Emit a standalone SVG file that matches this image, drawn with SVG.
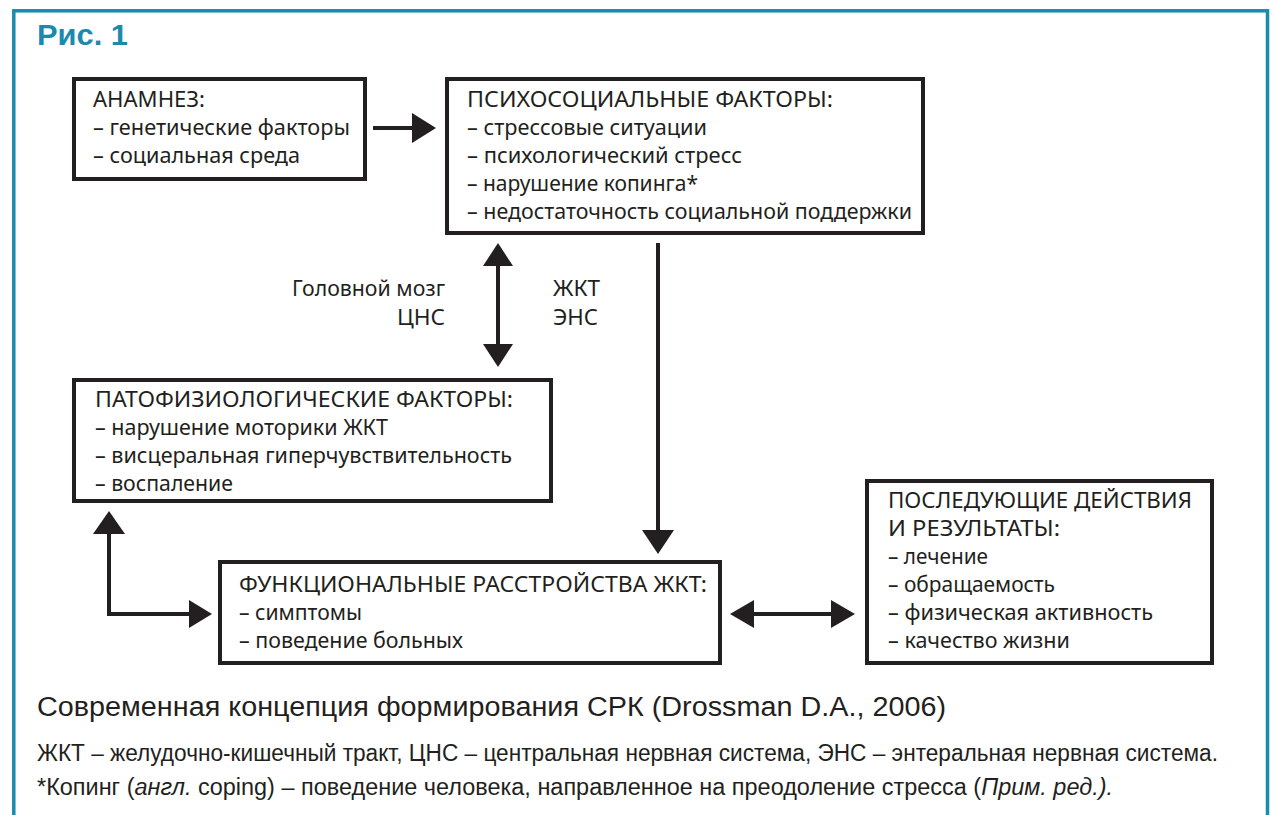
<svg xmlns="http://www.w3.org/2000/svg" width="1274" height="815" viewBox="0 0 1274 815">
<defs>
<style>
.frame{fill:none;stroke:#1a8aad;stroke-width:3.5}
.title{font-family:"Liberation Sans",Arial,sans-serif;font-weight:bold;font-size:30px;fill:#1a8aad}
.box{fill:#fff;stroke:#231f20;stroke-width:4}
.t{font-family:"Noto Sans","Open Sans",sans-serif;font-size:22px;fill:#231f20}
.ln{stroke:#231f20;stroke-width:4;fill:none}
.hd{fill:#231f20}
.cap{font-family:"Liberation Sans",Arial,sans-serif;font-size:27px;fill:#231f20}
.note{font-family:"Liberation Sans",Arial,sans-serif;font-size:23px;fill:#231f20}
</style>
</defs>
<rect x="0" y="0" width="1274" height="815" fill="#fff"/>
<rect class="frame" x="13.8" y="10.8" width="1253.7" height="830"/>
<text class="title" x="37" y="45" textLength="91" lengthAdjust="spacingAndGlyphs">Рис. 1</text>

<g id="connectors">
  <line class="ln" x1="373" y1="128" x2="414" y2="128"/>
  <polygon class="hd" points="412,113 436,128 412,143"/>
  <line class="ln" x1="498" y1="262" x2="498" y2="348"/>
  <polygon class="hd" points="483,266 498,243 513,266"/>
  <polygon class="hd" points="483,344 498,367 513,344"/>
  <line class="ln" x1="658" y1="243" x2="658" y2="533"/>
  <polygon class="hd" points="642,530 658,554 674,530"/>
  <polyline class="ln" points="109,530 109,614 193,614"/>
  <polygon class="hd" points="93,534 109,511 125,534"/>
  <polygon class="hd" points="189,600 212,614 189,628"/>
  <line class="ln" x1="750" y1="614" x2="835" y2="614"/>
  <polygon class="hd" points="754,600 730,614 754,628"/>
  <polygon class="hd" points="831,600 855,614 831,628"/>
</g>

<g id="labels">
  <text class="t" x="445" y="296" text-anchor="end" textLength="153" lengthAdjust="spacingAndGlyphs">Головной мозг</text>
  <text class="t" x="445" y="325" text-anchor="end" textLength="48" lengthAdjust="spacingAndGlyphs">ЦНС</text>
  <text class="t" x="553" y="296" textLength="47" lengthAdjust="spacingAndGlyphs">ЖКТ</text>
  <text class="t" x="553" y="325" textLength="45" lengthAdjust="spacingAndGlyphs">ЭНС</text>
</g>

<g id="anamnez">
  <rect class="box" x="74" y="79" width="291" height="100"/>
  <text class="t" x="93" y="107" textLength="112" lengthAdjust="spacingAndGlyphs">АНАМНЕЗ:</text>
  <text class="t" x="93" y="135" textLength="257" lengthAdjust="spacingAndGlyphs">– генетические факторы</text>
  <text class="t" x="93" y="163" textLength="207" lengthAdjust="spacingAndGlyphs">– социальная среда</text>
</g>

<g id="psycho">
  <rect class="box" x="447" y="79" width="476" height="154"/>
  <text class="t" x="467" y="107" textLength="366" lengthAdjust="spacingAndGlyphs">ПСИХОСОЦИАЛЬНЫЕ ФАКТОРЫ:</text>
  <text class="t" x="467" y="135" textLength="240" lengthAdjust="spacingAndGlyphs">– стрессовые ситуации</text>
  <text class="t" x="467" y="163" textLength="275" lengthAdjust="spacingAndGlyphs">– психологический стресс</text>
  <text class="t" x="467" y="191" textLength="231" lengthAdjust="spacingAndGlyphs">– нарушение копинга*</text>
  <text class="t" x="467" y="219" textLength="445" lengthAdjust="spacingAndGlyphs">– недостаточность социальной поддержки</text>
</g>

<g id="patho">
  <rect class="box" x="74" y="380" width="477" height="121"/>
  <text class="t" x="95" y="407" textLength="418" lengthAdjust="spacingAndGlyphs">ПАТОФИЗИОЛОГИЧЕСКИЕ ФАКТОРЫ:</text>
  <text class="t" x="95" y="435" textLength="293" lengthAdjust="spacingAndGlyphs">– нарушение моторики ЖКТ</text>
  <text class="t" x="95" y="463" textLength="417" lengthAdjust="spacingAndGlyphs">– висцеральная гиперчувствительность</text>
  <text class="t" x="95" y="491" textLength="138" lengthAdjust="spacingAndGlyphs">– воспаление</text>
</g>

<g id="functional">
  <rect class="box" x="220" y="562" width="500" height="101"/>
  <text class="t" x="239" y="592" textLength="468" lengthAdjust="spacingAndGlyphs">ФУНКЦИОНАЛЬНЫЕ РАССТРОЙСТВА ЖКТ:</text>
  <text class="t" x="239" y="620" textLength="123" lengthAdjust="spacingAndGlyphs">– симптомы</text>
  <text class="t" x="239" y="648" textLength="224" lengthAdjust="spacingAndGlyphs">– поведение больных</text>
</g>

<g id="outcomes">
  <rect class="box" x="867" y="481" width="345" height="182"/>
  <text class="t" x="888" y="508" textLength="304" lengthAdjust="spacingAndGlyphs">ПОСЛЕДУЮЩИЕ ДЕЙСТВИЯ</text>
  <text class="t" x="888" y="536" textLength="172" lengthAdjust="spacingAndGlyphs">И РЕЗУЛЬТАТЫ:</text>
  <text class="t" x="888" y="564" textLength="100" lengthAdjust="spacingAndGlyphs">– лечение</text>
  <text class="t" x="888" y="592" textLength="167" lengthAdjust="spacingAndGlyphs">– обращаемость</text>
  <text class="t" x="888" y="620" textLength="265" lengthAdjust="spacingAndGlyphs">– физическая активность</text>
  <text class="t" x="888" y="648" textLength="182" lengthAdjust="spacingAndGlyphs">– качество жизни</text>
</g>

<g id="caption">
  <text class="cap" x="37" y="716" textLength="909" lengthAdjust="spacingAndGlyphs">Современная концепция формирования СРК (Drossman D.A., 2006)</text>
  <text class="note" x="37" y="761" textLength="1181" lengthAdjust="spacingAndGlyphs">ЖКТ – желудочно-кишечный тракт, ЦНС – центральная нервная система, ЭНС – энтеральная нервная система.</text>
  <text class="note" x="37" y="795" textLength="1076" lengthAdjust="spacingAndGlyphs">*Копинг (<tspan font-style="italic">англ.</tspan> coping) – поведение человека, направленное на преодоление стресса (<tspan font-style="italic">Прим. ред.).</tspan></text>
</g>
</svg>
